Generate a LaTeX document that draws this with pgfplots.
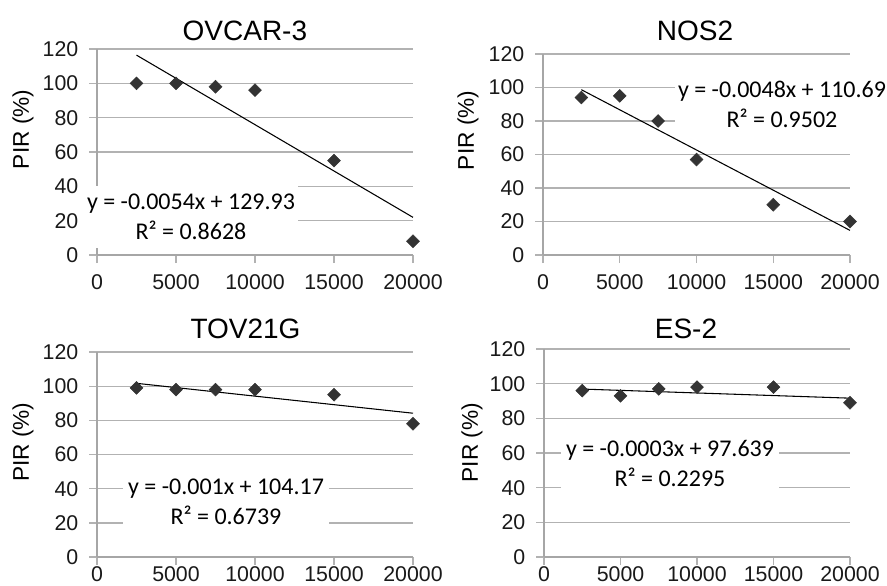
\documentclass[border=0pt]{standalone}
\usepackage{fontspec}
\setmainfont{Liberation Sans}
\newfontfamily\calfont{Carlito}
\usepackage{pgfplots}
\pgfplotsset{compat=1.18}

\pgfplotsset{
  panel/.style={
    scale only axis, clip=false,
    xmin=0, xmax=20000, ymin=0, ymax=120,
    xtick={0,5000,10000,15000,20000}, ytick={0,20,...,120},
    axis lines=left, axis line style={-, draw=black!35, line width=1pt},
    ymajorgrids, grid style={black!30, line width=1pt},
    tick align=outside, major tick length=6pt,
    tick style={black!30, line width=1pt},
    scaled ticks=false,
    /pgf/number format/1000 sep={},
    /pgf/number format/assume math mode=true,
    xticklabel style={font=\fontsize{16}{18}\selectfont, text=black!90},
    yticklabel style={font=\fontsize{16}{18}\selectfont, text=black!90, xshift=-4.5pt},
    every axis title shift=0pt,
    title style={font=\fontsize{21}{24}\selectfont, anchor=base},
    ylabel={PIR (\%)},
    ylabel style={font=\fontsize{17}{20}\selectfont, anchor=center},
  },
  pts/.style={only marks, mark=square*, mark size=3.4pt, color=black!80,
    mark options={rotate=45, fill=black!80, draw=black!80}},
  trend/.style={black, line width=0.8pt, no marks},
}
\tikzset{
  eqn/.style={fill=white, inner xsep=2.5pt, inner ysep=6pt, align=center,
    font=\calfont\fontsize{18}{22.5}\selectfont},
}

\begin{document}
\begin{tikzpicture}
\useasboundingbox (0,0) rectangle (665.25pt,-438.75pt);

% OVCAR-3
\begin{axis}[panel, at={(72.75pt,-191.25pt)}, anchor=south west,
  width=237pt, height=154.5pt,
  xticklabel style={yshift=-5pt},
  title={OVCAR-3}, title style={at={([yshift=6.75pt]axis description cs:0.468,1)}},
  ylabel style={at={([xshift=-55.5pt]axis description cs:0,0.61)}}]
\addplot[pts] coordinates {(2500,100)(5000,100)(7500,98)(10000,96)(15000,55)(20000,8)};
\addplot[trend] coordinates {(2500,116.43)(20000,21.93)};
\node[eqn] at (axis cs:5950,22.1) {y = -0.0054x + 129.93\\R² = 0.8628};
\end{axis}

% NOS2
\begin{axis}[panel, at={(407.25pt,-191.25pt)}, anchor=south west,
  width=230.25pt, height=150.75pt,
  xticklabel style={yshift=-5pt},
  title={NOS2}, title style={at={([yshift=10.5pt]axis description cs:0.495,1)}},
  ylabel style={at={([xshift=-56.25pt]axis description cs:0,0.62)}}]
\addplot[pts] coordinates {(2500,94)(5000,95)(7500,80)(10000,57)(15000,30)(20000,20)};
\addplot[trend] coordinates {(2500,98.69)(20000,14.69)};
\node[eqn] at (axis cs:15570,90.1) {y = -0.0048x + 110.69\\R² = 0.9502};
\end{axis}

% TOV21G
\begin{axis}[panel, at={(72.75pt,-417.75pt)}, anchor=south west,
  width=237pt, height=153.75pt,
  xticklabel style={yshift=2.5pt},
  title={TOV21G}, title style={at={([yshift=10.5pt]axis description cs:0.47,1)}},
  ylabel style={at={([xshift=-55.5pt]axis description cs:0,0.56)}}]
\addplot[pts] coordinates {(2500,99)(5000,98)(7500,98)(10000,98)(15000,95)(20000,78)};
\addplot[trend] coordinates {(2500,101.67)(20000,84.17)};
\node[eqn, inner xsep=4pt] at (axis cs:8165,32.2) {y = -0.001x + 104.17\\R² = 0.6739};
\end{axis}

% ES-2
\begin{axis}[panel, at={(408pt,-417.75pt)}, anchor=south west,
  width=229.5pt, height=156pt,
  xticklabel style={yshift=2.5pt},
  title={ES-2}, title style={at={([yshift=8.25pt]axis description cs:0.464,1)}},
  ylabel style={at={([xshift=-54pt]axis description cs:0,0.55)}}]
\addplot[pts] coordinates {(2500,96)(5000,93)(7500,97)(10000,98)(15000,98)(20000,89)};
\addplot[trend] coordinates {(2500,96.89)(20000,91.64)};
\node[eqn, inner xsep=4pt] at (axis cs:8235,53.7) {y = -0.0003x + 97.639\\R² = 0.2295};
\end{axis}
\end{tikzpicture}
\end{document}
